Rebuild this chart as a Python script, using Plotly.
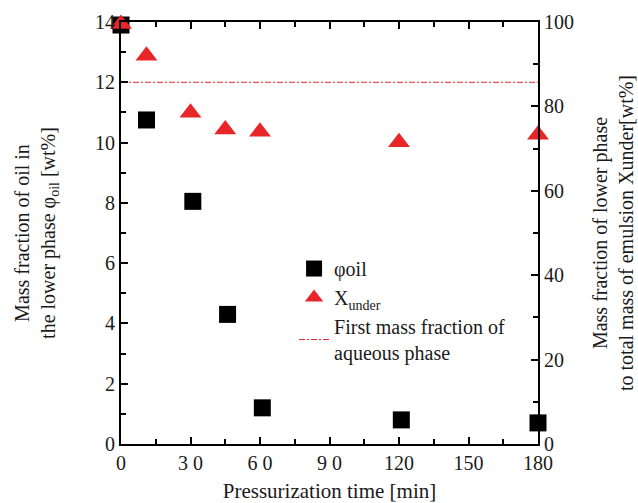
import plotly.graph_objects as go

time_oil = [0, 11, 31, 46, 61, 121, 180]
phi_oil = [13.9, 10.75, 8.05, 4.3, 1.2, 0.8, 0.7]

time_x = [0, 11, 30, 45, 60, 120, 180]
x_under = [99.5, 92.0, 78.5, 74.5, 74.0, 71.5, 73.3]

first_aq_frac = 12.0  # on left axis scale
line_x = [0, 180]

xtickvals = [0, 30, 60, 90, 120, 150, 180]
xticktext = ["0", "3 0", "6 0", "9 0", "120", "150", "180"]

FONT = "Liberation Serif"
RED = "#E8262A"
TXT = "#1a1a1a"

fig = go.Figure()
fig.add_trace(go.Scatter(
    x=time_oil, y=phi_oil, mode="markers", name="φoil", cliponaxis=False,
    marker=dict(symbol="square", size=17, color="black"),
))
fig.add_trace(go.Scatter(
    x=time_x, y=x_under, mode="markers", name="X<sub>under</sub>", yaxis="y2",
    cliponaxis=False,
    marker=dict(symbol="triangle-up", size=19, color=RED),
))
fig.add_trace(go.Scatter(
    x=line_x, y=[first_aq_frac, first_aq_frac], mode="lines",
    name="First mass fraction of<br>aqueous phase",
    line=dict(color=RED, width=1, dash="6px,2px,2px,2px"),
))

axis_common = dict(
    showline=True, linecolor="black", linewidth=2, ticks="inside",
    tickcolor="black", tickwidth=2, ticklen=7, showgrid=False, zeroline=False,
    automargin=False,
    tickfont=dict(family=FONT, size=20, color=TXT),
)
minor_common = dict(ticks="inside", ticklen=5, tickwidth=2, tickcolor="black")

fig.update_layout(
    width=638, height=503,
    margin=dict(l=121, r=100, t=22, b=59),
    plot_bgcolor="white", paper_bgcolor="white",
    font=dict(family=FONT, color=TXT),
    xaxis=dict(
        range=[0, 180], tickvals=xtickvals, ticktext=xticktext, mirror="ticks",
        minor=dict(tickvals=[15, 45, 75, 105, 135, 165], **minor_common),
        title=dict(text="Pressurization time [min]", font=dict(family=FONT, size=21), standoff=10),
        **axis_common,
    ),
    yaxis=dict(
        range=[0, 14], dtick=2, tick0=0,
        minor=dict(dtick=1, **minor_common),
        title=dict(text="Mass fraction of oil in<br>the lower phase φ<sub>oil</sub> [wt%]",
                   font=dict(family=FONT, size=20), standoff=34),
        **axis_common,
    ),
    yaxis2=dict(
        range=[0, 100], dtick=20, tick0=0, overlaying="y", side="right",
        minor=dict(dtick=10, **minor_common),
        title=dict(text="Mass fraction of lower phase<br>to total mass of emulsion Xunder[wt%]",
                   font=dict(family=FONT, size=20), standoff=20),
        **axis_common,
    ),
    showlegend=True,
    legend=dict(
        x=0.415, y=0.462, xanchor="left", yanchor="top",
        bgcolor="rgba(0,0,0,0)", font=dict(family=FONT, size=20, color=TXT),
        tracegroupgap=0, itemwidth=30,
    ),
)

fig.write_html("out.html")
